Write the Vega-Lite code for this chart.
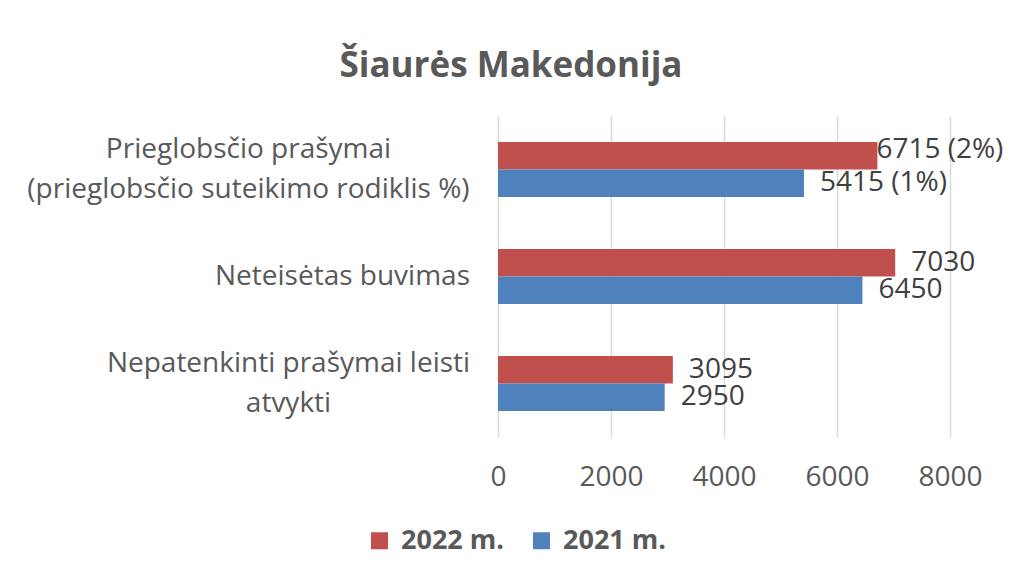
{
  "$schema": "https://vega.github.io/schema/vega-lite/v6.json",
  "autosize": {"type": "none"},
  "padding": {"left": 498, "top": 116, "right": 59, "bottom": 141},
  "width": 452,
  "height": 321,
  "background": "white",
  "config": {
    "view": {"stroke": null},
    "font": "Open Sans"
  },
  "title": {
    "text": "Šiaurės Makedonija",
    "font": "Open Sans",
    "fontSize": 35,
    "fontWeight": "bold",
    "color": "#595959",
    "anchor": "middle",
    "frame": "group",
    "dx": -213,
    "baseline": "alphabetic",
    "offset": 4
  },
  "data": {
    "values": [
      {"category": "Prieglobsčio prašymai\n(prieglobsčio suteikimo rodiklis %)", "year": "2022 m.", "value": 6715, "label": "6715 (2%)"},
      {"category": "Prieglobsčio prašymai\n(prieglobsčio suteikimo rodiklis %)", "year": "2021 m.", "value": 5415, "label": "5415 (1%)"},
      {"category": "Neteisėtas buvimas", "year": "2022 m.", "value": 7030, "label": "7030"},
      {"category": "Neteisėtas buvimas", "year": "2021 m.", "value": 6450, "label": "6450"},
      {"category": "Nepatenkinti prašymai leisti\natvykti", "year": "2022 m.", "value": 3095, "label": "3095"},
      {"category": "Nepatenkinti prašymai leisti\natvykti", "year": "2021 m.", "value": 2950, "label": "2950"}
    ]
  },
  "encoding": {
    "y": {
      "field": "category",
      "type": "nominal",
      "sort": null,
      "scale": {"paddingInner": 0.486, "paddingOuter": 0.243},
      "axis": {
        "title": null,
        "domain": false,
        "ticks": false,
        "grid": false,
        "labelFont": "Open Sans",
        "labelFontSize": 28,
        "labelColor": "#595959",
        "labelAlign": "center",
        "labelPadding": {
          "condition": [
            {"test": "datum.value == 'Neteisėtas buvimas'", "value": 156},
            {"test": "indexof(datum.value, 'atvykti') >= 0", "value": 210}
          ],
          "value": 250
        },
        "labelOffset": {
          "condition": {"test": "indexof(datum.value, '\\n') >= 0", "value": -20},
          "value": 0
        },
        "labelLineHeight": 40,
        "labelLimit": 600,
        "labelExpr": "split(datum.label, '\\n')"
      }
    },
    "x": {
      "field": "value",
      "type": "quantitative",
      "scale": {"domain": [0, 8000], "nice": false},
      "axis": {
        "title": null,
        "values": [0, 2000, 4000, 6000, 8000],
        "format": "d",
        "domain": false,
        "ticks": false,
        "grid": true,
        "gridColor": "#d9d9d9",
        "gridWidth": 1.5,
        "labelFont": "Open Sans",
        "labelFontSize": 28,
        "labelColor": "#595959",
        "labelBaseline": "middle",
        "labelPadding": 40,
        "labelFlush": false
      }
    },
    "yOffset": {
      "field": "year",
      "type": "nominal",
      "scale": {"domain": ["2022 m.", "2021 m."], "paddingInner": 0, "paddingOuter": 0}
    }
  },
  "layer": [
    {
      "mark": {"type": "bar"},
      "encoding": {
        "color": {
          "field": "year",
          "type": "nominal",
          "scale": {"domain": ["2022 m.", "2021 m."], "range": ["#C0504D", "#4F81BD"]},
          "legend": {
            "title": null,
            "orient": "none",
            "legendX": -132,
            "legendY": 411,
            "direction": "horizontal",
            "symbolType": "square",
            "symbolSize": 289,
            "symbolStrokeWidth": 0,
            "labelFont": "Open Sans",
            "labelFontSize": 27,
            "labelFontWeight": "bold",
            "labelColor": "#595959",
            "labelOffset": 8,
            "columnPadding": 24,
            "padding": 0
          }
        }
      }
    },
    {
      "transform": [{"filter": "datum.label != '6715 (2%)'"}],
      "mark": {"type": "text", "align": "left", "baseline": "middle", "dx": 16, "fontSize": 28, "font": "Open Sans", "color": "#404040"},
      "encoding": {"text": {"field": "label"}}
    },
    {
      "transform": [{"filter": "datum.label == '6715 (2%)'"}],
      "mark": {"type": "text", "align": "left", "baseline": "middle", "dx": -1, "dy": -6, "fontSize": 28, "font": "Open Sans", "color": "#404040"},
      "encoding": {"text": {"field": "label"}}
    }
  ]
}
